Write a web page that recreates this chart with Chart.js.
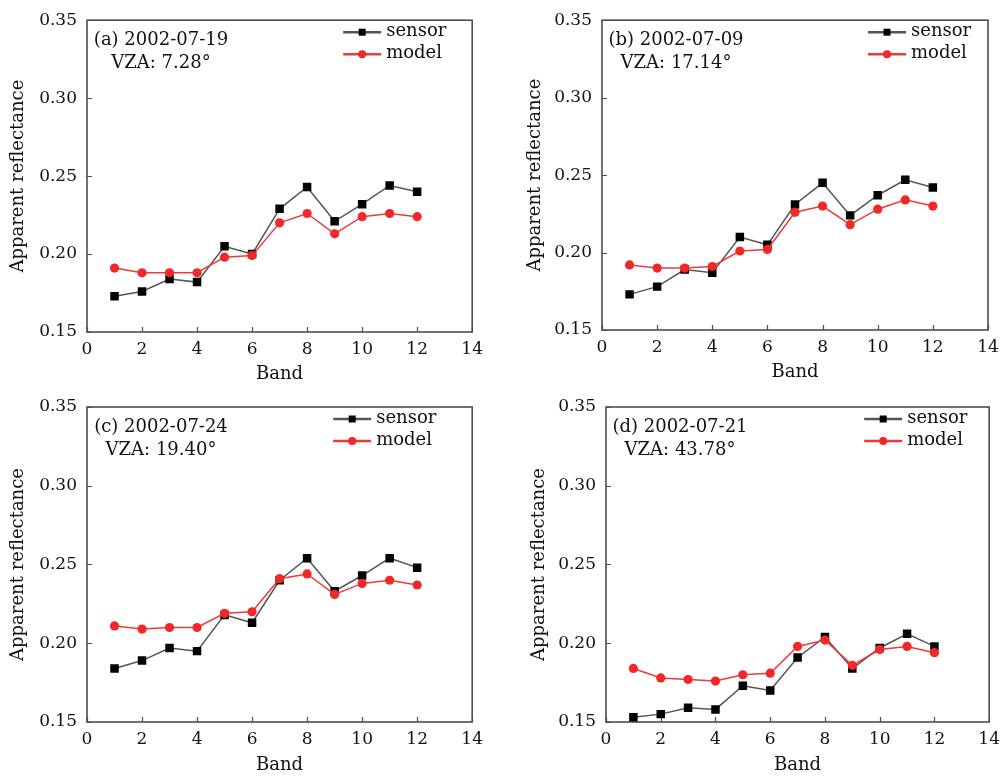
<!DOCTYPE html>
<html>
<head>
<meta charset="utf-8">
<script src="https://cdn.jsdelivr.net/npm/chart.js@4.4.1/dist/chart.umd.min.js"></script>
<style>
  html, body { margin: 0; padding: 0; background: #fff; }
  #wrap { position: relative; width: 1007px; height: 776px; }
  .panel { position: absolute; }
</style>
</head>
<body>
<div id="wrap">
  <div class="panel" id="p0"><canvas id="c0"></canvas></div>
  <div class="panel" id="p1"><canvas id="c1"></canvas></div>
  <div class="panel" id="p2"><canvas id="c2"></canvas></div>
  <div class="panel" id="p3"><canvas id="c3"></canvas></div>
</div>
<script>
// Band numbers shared by all four panels
const bands = [1, 2, 3, 4, 5, 6, 7, 8, 9, 10, 11, 12];

// (a) 2002-07-19
const sensorA = [0.173, 0.176, 0.184, 0.182, 0.205, 0.200, 0.229, 0.243, 0.221, 0.232, 0.244, 0.240];
const modelA  = [0.191, 0.188, 0.188, 0.188, 0.198, 0.199, 0.220, 0.226, 0.213, 0.224, 0.226, 0.224];
// (b) 2002-07-09
const sensorB = [0.173, 0.178, 0.189, 0.187, 0.210, 0.205, 0.231, 0.245, 0.224, 0.237, 0.247, 0.242];
const modelB  = [0.192, 0.190, 0.190, 0.191, 0.201, 0.202, 0.226, 0.230, 0.218, 0.228, 0.234, 0.230];
// (c) 2002-07-24
const sensorC = [0.184, 0.189, 0.197, 0.195, 0.218, 0.213, 0.240, 0.254, 0.233, 0.243, 0.254, 0.248];
const modelC  = [0.211, 0.209, 0.210, 0.210, 0.219, 0.220, 0.241, 0.244, 0.231, 0.238, 0.240, 0.237];
// (d) 2002-07-21
const sensorD = [0.153, 0.155, 0.159, 0.158, 0.173, 0.170, 0.191, 0.204, 0.184, 0.197, 0.206, 0.198];
const modelD  = [0.184, 0.178, 0.177, 0.176, 0.180, 0.181, 0.198, 0.202, 0.186, 0.196, 0.198, 0.194];

const panelTags = ['(a) 2002-07-19', '(b) 2002-07-09', '(c) 2002-07-24', '(d) 2002-07-21'];
const vzaLabels = ['VZA: 7.28°', 'VZA: 17.14°', 'VZA: 19.40°', 'VZA: 43.78°'];
const seriesNames = ['sensor', 'model'];
const xTicks = [0, 2, 4, 6, 8, 10, 12, 14];
const yTicks = [0.15, 0.20, 0.25, 0.30, 0.35];
const xTitle = 'Band';
const yTitle = 'Apparent reflectance';

const sensorSets = [sensorA, sensorB, sensorC, sensorD];
const modelSets = [modelA, modelB, modelC, modelD];

// panel placement on the page (pixels)
const layouts = [
  { left: 0,   top: 0,   w: 490, h: 385, yW: 87,  xH: 53, padTop: 15, padRight: 17, yTitlePad: 9,  xTitlePad: 0, legendDx: -129 },
  { left: 500, top: 0,   w: 507, h: 385, yW: 102, xH: 55, padTop: 13, padRight: 19, yTitlePad: 26, xTitlePad: 2, legendDx: -120 },
  { left: 0,   top: 385, w: 490, h: 391, yW: 87,  xH: 54, padTop: 22, padRight: 17, yTitlePad: 9,  xTitlePad: 0, legendDx: -139 },
  { left: 500, top: 385, w: 507, h: 391, yW: 106, xH: 54, padTop: 22, padRight: 14, yTitlePad: 30, xTitlePad: 0, legendDx: -125 }
];

const FONT = "'DejaVu Serif', 'Liberation Serif', serif";
const TEXT = '#111111';
const AXIS = '#4d4d4d';
const SENSOR_LINE = '#555555';
const SENSOR_PT = '#000000';
const MODEL_LINE = '#f03a3a';
const MODEL_PT = '#f02828';

// box round the plot, inward ticks, legend and panel note
const framePlugin = {
  id: 'frame',
  beforeDatasetsDraw(chart) {
    const { ctx, chartArea: a, scales: { x, y } } = chart;
    ctx.save();
    ctx.strokeStyle = AXIS;
    ctx.lineWidth = 1.6;
    ctx.strokeRect(a.left, a.top, a.right - a.left, a.bottom - a.top);
    ctx.beginPath();
    x.ticks.forEach(t => {
      const px = Math.round(x.getPixelForValue(t.value)) + 0.5;
      ctx.moveTo(px, a.bottom);
      ctx.lineTo(px, a.bottom - 5);
    });
    y.ticks.forEach(t => {
      const py = Math.round(y.getPixelForValue(t.value)) + 0.5;
      ctx.moveTo(a.left, py);
      ctx.lineTo(a.left + 5, py);
    });
    ctx.lineWidth = 1.2;
    ctx.stroke();
    ctx.restore();
  },
  afterDatasetsDraw(chart, args, opts) {
    const { ctx, chartArea: a } = chart;
    ctx.save();
    ctx.fillStyle = TEXT;
    ctx.font = '18px ' + FONT;
    ctx.textAlign = 'center';
    ctx.textBaseline = 'middle';
    const cx = a.left + 74;
    ctx.fillText(opts.tag, cx, a.top + 20);
    ctx.fillText(opts.vza, cx, a.top + 43);

    // legend: line with marker, then label
    const x0 = a.right + opts.legendDx;
    const rows = [a.top + 12, a.top + 34];
    chart.data.datasets.forEach((ds, i) => {
      const yy = rows[i];
      ctx.strokeStyle = ds.borderColor;
      ctx.lineWidth = 2.4;
      ctx.beginPath();
      ctx.moveTo(x0, yy);
      ctx.lineTo(x0 + 38, yy);
      ctx.stroke();
      ctx.fillStyle = ds.pointBackgroundColor;
      if (ds.pointStyle === 'rect') {
        ctx.fillRect(x0 + 19 - 3.5, yy - 3.5, 7, 7);
      } else {
        ctx.beginPath();
        ctx.arc(x0 + 19, yy, 4, 0, Math.PI * 2);
        ctx.fill();
      }
      ctx.fillStyle = TEXT;
      ctx.textAlign = 'left';
      ctx.fillText(ds.label, x0 + 43, yy - 1);
    });
    ctx.restore();
  }
};

function makeChart(i) {
  const L = layouts[i];
  const holder = document.getElementById('p' + i);
  holder.style.left = L.left + 'px';
  holder.style.top = L.top + 'px';
  holder.style.width = L.w + 'px';
  holder.style.height = L.h + 'px';

  const ctx = document.getElementById('c' + i).getContext('2d');
  return new Chart(ctx, {
    type: 'line',
    data: {
      labels: bands,
      datasets: [
        {
          label: seriesNames[0],
          data: sensorSets[i],
          borderColor: SENSOR_LINE,
          borderWidth: 1.5,
          pointStyle: 'rect',
          pointRadius: 6,
          pointBackgroundColor: SENSOR_PT,
          pointBorderColor: SENSOR_PT,
          pointBorderWidth: 0,
          tension: 0,
          order: 1
        },
        {
          label: seriesNames[1],
          data: modelSets[i],
          borderColor: MODEL_LINE,
          borderWidth: 1.5,
          pointStyle: 'circle',
          pointRadius: 4.6,
          pointBackgroundColor: MODEL_PT,
          pointBorderColor: MODEL_PT,
          pointBorderWidth: 0,
          tension: 0,
          order: 0
        }
      ]
    },
    options: {
      responsive: true,
      maintainAspectRatio: false,
      animation: false,
      layout: { padding: { left: 0, top: L.padTop, right: L.padRight, bottom: 0 } },
      plugins: {
        legend: { display: false },
        tooltip: { enabled: false },
        frame: { tag: panelTags[i], vza: vzaLabels[i], legendDx: L.legendDx }
      },
      scales: {
        x: {
          type: 'linear',
          min: xTicks[0],
          max: xTicks[xTicks.length - 1],
          afterBuildTicks: s => { s.ticks = xTicks.map(v => ({ value: v })); },
          afterFit: s => { s.height = L.xH; },
          grid: { display: false, drawTicks: false },
          border: { display: false },
          ticks: {
            padding: 7,
            color: TEXT,
            font: { family: FONT, size: 17 },
            maxRotation: 0
          },
          title: {
            display: true,
            text: xTitle,
            color: TEXT,
            font: { family: FONT, size: 18 },
            padding: { top: 0, bottom: L.xTitlePad }
          }
        },
        y: {
          type: 'linear',
          min: yTicks[0],
          max: yTicks[yTicks.length - 1],
          afterBuildTicks: s => { s.ticks = yTicks.map(v => ({ value: v })); },
          afterFit: s => { s.width = L.yW; },
          grid: { display: false, drawTicks: false },
          border: { display: false },
          ticks: {
            padding: 10,
            color: TEXT,
            font: { family: FONT, size: 17 },
            callback: v => v.toFixed(2)
          },
          title: {
            display: true,
            text: yTitle,
            color: TEXT,
            font: { family: FONT, size: 18 },
            padding: { top: L.yTitlePad - 1, bottom: 0 }
          }
        }
      }
    },
    plugins: [framePlugin]
  });
}

const charts = [0, 1, 2, 3].map(makeChart);
</script>
</body>
</html>
